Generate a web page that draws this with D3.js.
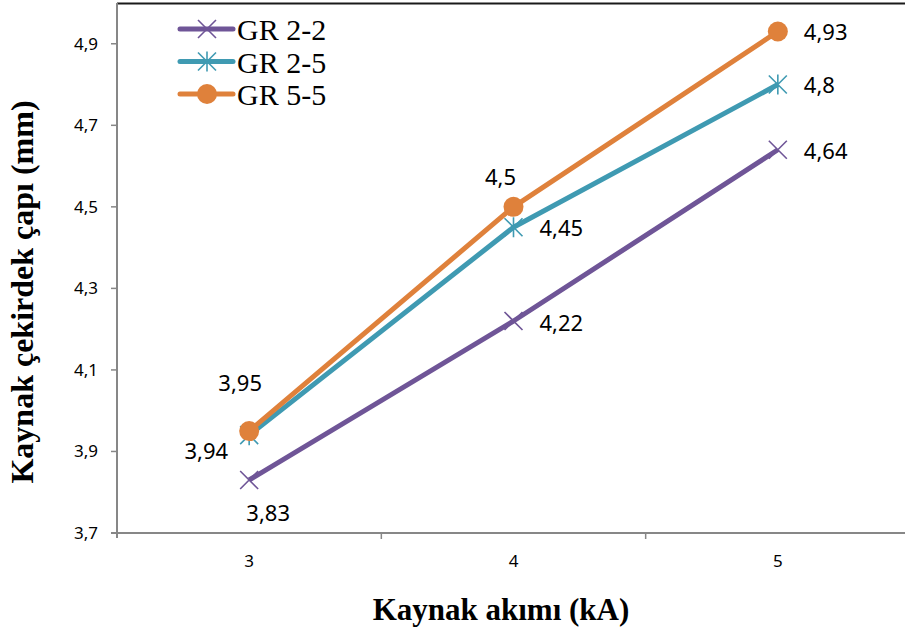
<!DOCTYPE html>
<html>
<head>
<meta charset="utf-8">
<script src="https://cdn.jsdelivr.net/npm/d3@7"></script>
<style>
  body { margin: 0; background: #fff; }
  svg { display: block; }
</style>
</head>
<body>
<div id="chart"></div>
<script>
// values
const currents = ["3", "4", "5"];
const seriesNames = ["GR 2-2", "GR 2-5", "GR 5-5"];
const gr22 = [3.83, 4.22, 4.64];
const gr25 = [3.94, 4.45, 4.8];
const gr55 = [3.95, 4.5, 4.93];
const yTicks = [3.7, 3.9, 4.1, 4.3, 4.5, 4.7, 4.9];

const colors = ["#6f5597", "#3f9ab2", "#df813b"];
const markers = ["x", "star", "circle"];
// label placement per point: [dx, dy, anchor]
const labelPos = [
    [[19, 33, "middle"], [26, 2, "start"], [26, 1, "start"]],
    [[-21, 16, "end"], [26, 1, "start"], [26, 1, "start"]],
    [[-9, -48, "middle"], [-13, -30, "middle"], [26, 1, "start"]]
];

const width = 905, height = 632;
const plotLeft = 117, plotRight = 910, plotTop = 3, plotBottom = 533;

const svg = d3.select("#chart").append("svg")
    .attr("width", width)
    .attr("height", height);

const x = d3.scaleBand().domain(currents).range([plotLeft, plotRight]);
const y = d3.scaleLinear().domain([3.7, 5.0]).range([plotBottom, plotTop]);
const cx = d => x(d) + x.bandwidth() / 2;
const fmt = v => String(v).replace(".", ",");

// frame: dark top line, grey axes
svg.append("line")
    .attr("x1", plotLeft).attr("x2", width)
    .attr("y1", plotTop + 0.5).attr("y2", plotTop + 0.5)
    .attr("stroke", "#1a1a1a").attr("stroke-width", 2);

svg.append("line")
    .attr("x1", plotLeft).attr("x2", plotLeft)
    .attr("y1", plotTop).attr("y2", plotBottom + 5)
    .attr("stroke", "#878787").attr("stroke-width", 2);

svg.append("line")
    .attr("x1", plotLeft - 6).attr("x2", width)
    .attr("y1", plotBottom).attr("y2", plotBottom)
    .attr("stroke", "#878787").attr("stroke-width", 2);

// y ticks
svg.append("g").selectAll("line")
    .data(yTicks).enter().append("line")
    .attr("x1", plotLeft - 6).attr("x2", plotLeft)
    .attr("y1", d => y(d)).attr("y2", d => y(d))
    .attr("stroke", "#878787").attr("stroke-width", 1.5);

svg.append("g").selectAll("text")
    .data(yTicks).enter().append("text")
    .attr("x", 98)
    .attr("y", d => y(d) + 6)
    .attr("text-anchor", "end")
    .attr("font-family", "'Noto Sans', sans-serif")
    .attr("font-size", 17)
    .text(d => d.toFixed(1).replace(".", ","));

// x ticks between categories
svg.append("g").selectAll("line")
    .data(currents.slice(1)).enter().append("line")
    .attr("x1", d => x(d)).attr("x2", d => x(d))
    .attr("y1", plotBottom).attr("y2", plotBottom + 6)
    .attr("stroke", "#878787").attr("stroke-width", 1.5);

svg.append("g").selectAll("text")
    .data(currents).enter().append("text")
    .attr("x", d => cx(d))
    .attr("y", 567)
    .attr("text-anchor", "middle")
    .attr("font-family", "'Noto Sans', sans-serif")
    .attr("font-size", 17)
    .text(d => d);

// axis titles
svg.append("text")
    .attr("x", 501)
    .attr("y", 620)
    .attr("text-anchor", "middle")
    .attr("font-family", "'Liberation Serif', 'Times New Roman', serif")
    .attr("font-weight", "bold")
    .attr("font-size", 31)
    .text("Kaynak akımı (kA)");

svg.append("text")
    .attr("transform", "translate(33,292) rotate(-90)")
    .attr("text-anchor", "middle")
    .attr("font-family", "'Liberation Serif', 'Times New Roman', serif")
    .attr("font-weight", "bold")
    .attr("font-size", 32)
    .text("Kaynak çekirdek çapı (mm)");

function drawMarker(g, type, color, px, py) {
    if (type === "circle") {
        g.append("circle")
            .attr("cx", px).attr("cy", py).attr("r", 10)
            .attr("fill", color);
    } else {
        const s = 9;
        const p = `M${px - s},${py - s}L${px + s},${py + s}M${px - s},${py + s}L${px + s},${py - s}` +
            (type === "star" ? `M${px},${py - s - 1}L${px},${py + s + 1}` : "");
        g.append("path")
            .attr("d", p)
            .attr("stroke", color)
            .attr("stroke-width", 1.6)
            .attr("fill", "none");
    }
}

const allSeries = [gr22, gr25, gr55];
const line = d3.line()
    .x((d, i) => cx(currents[i]))
    .y(d => y(d));

allSeries.forEach((vals, si) => {
    const g = svg.append("g");
    g.append("path")
        .datum(vals)
        .attr("d", line)
        .attr("fill", "none")
        .attr("stroke", colors[si])
        .attr("stroke-width", 5)
        .attr("stroke-linejoin", "round");
    vals.forEach((v, i) => drawMarker(g, markers[si], colors[si], cx(currents[i]), y(v)));
});

// data labels
allSeries.forEach((vals, si) => {
    vals.forEach((v, i) => {
        const [dx, dy, anchor] = labelPos[si][i];
        svg.append("text")
            .attr("x", cx(currents[i]) + dx)
            .attr("y", y(v) + dy)
            .attr("dy", "0.36em")
            .attr("text-anchor", anchor)
            .attr("font-family", "'Noto Sans', sans-serif")
            .attr("font-size", 22)
            .text(fmt(v));
    });
});

// legend
const legend = svg.append("g");
seriesNames.forEach((name, i) => {
    const ly = 29 + i * 32.5;
    legend.append("line")
        .attr("x1", 180).attr("x2", 233)
        .attr("y1", ly).attr("y2", ly)
        .attr("stroke", colors[i])
        .attr("stroke-width", 5)
        .attr("stroke-linecap", "round");
    drawMarker(legend, markers[i], colors[i], 207, ly);
    legend.append("text")
        .attr("x", 237)
        .attr("y", ly + 11)
        .attr("font-family", "'Liberation Serif', 'Times New Roman', serif")
        .attr("font-size", 30)
        .text(name);
});
</script>
</body>
</html>
